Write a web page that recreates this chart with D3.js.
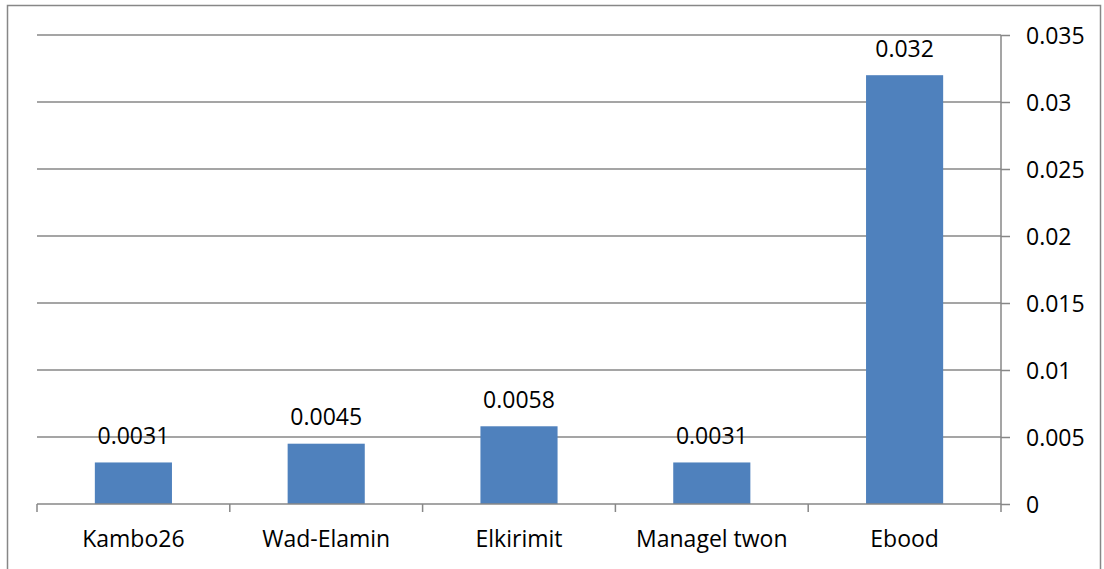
<!DOCTYPE html>
<html>
<head>
<meta charset="utf-8">
<script src="https://cdn.jsdelivr.net/npm/d3@7"></script>
<style>
  html, body { margin: 0; padding: 0; background: #fff; }
  svg { display: block; }
  text { font-family: "Open Sans", "Lato", sans-serif; fill: #000; }
</style>
</head>
<body>
<svg id="chart" width="1104" height="569"></svg>
<script>
// Site names and measured values
const categories = ["Kambo26", "Wad-Elamin", "Elkirimit", "Managel twon", "Ebood"];
const values = [0.0031, 0.0045, 0.0058, 0.0031, 0.032];
const valueLabels = ["0.0031", "0.0045", "0.0058", "0.0031", "0.032"];
const tickValues = [0, 0.005, 0.01, 0.015, 0.02, 0.025, 0.03, 0.035];
const tickLabels = ["0", "0.005", "0.01", "0.015", "0.02", "0.025", "0.03", "0.035"];

const svg = d3.select("#chart");
const W = 1104, H = 569;
const plot = { left: 37, right: 1001, top: 35, bottom: 504 };
const gridColor = "#878787";
const barColor = "#4F81BD";
const fontSize = 23;

// Outer chart frame
svg.append("rect")
  .attr("x", 7.5).attr("y", 5.5)
  .attr("width", 1093).attr("height", 580)
  .attr("fill", "none")
  .attr("stroke", gridColor)
  .attr("stroke-width", 1.5);

const x = d3.scaleBand()
  .domain(categories)
  .range([plot.left, plot.right])
  .paddingInner(0.6)
  .paddingOuter(0.3);

const y = d3.scaleLinear()
  .domain([0, 0.035])
  .range([plot.bottom, plot.top]);

// Horizontal gridlines
svg.append("g")
  .selectAll("line")
  .data(tickValues.filter(v => v > 0))
  .join("line")
  .attr("x1", plot.left)
  .attr("x2", plot.right)
  .attr("y1", d => y(d))
  .attr("y2", d => y(d))
  .attr("stroke", gridColor)
  .attr("stroke-width", 1.5);

// Bars
svg.append("g")
  .selectAll("rect")
  .data(values)
  .join("rect")
  .attr("x", (d, i) => x(categories[i]))
  .attr("y", d => y(d))
  .attr("width", x.bandwidth())
  .attr("height", d => y(0) - y(d))
  .attr("fill", barColor);

// Value labels above bars
svg.append("g")
  .selectAll("text")
  .data(values)
  .join("text")
  .attr("x", (d, i) => x(categories[i]) + x.bandwidth() / 2)
  .attr("y", d => y(d) - 18.5)
  .attr("text-anchor", "middle")
  .style("font-size", fontSize + "px")
  .text((d, i) => valueLabels[i]);

// Right-hand value axis
const yAxis = d3.axisRight(y)
  .tickValues(tickValues)
  .tickSize(9)
  .tickPadding(16)
  .tickFormat((d, i) => tickLabels[i]);

const gy = svg.append("g")
  .attr("transform", `translate(${plot.right},0)`)
  .call(yAxis);
gy.select(".domain").attr("stroke", gridColor).attr("stroke-width", 1.5)
  .attr("d", `M0,${plot.top}V${plot.bottom}`);
gy.selectAll(".tick line").attr("stroke", gridColor).attr("stroke-width", 1.5);
gy.selectAll(".tick text")
  .style("font-size", fontSize + "px")
  .attr("fill", "#000")
  .attr("dy", "0.35em");

// Category axis with ticks at category boundaries
const step = x.step();
const boundaries = d3.range(categories.length + 1).map(i => plot.left + i * (plot.right - plot.left) / categories.length);

svg.append("line")
  .attr("x1", plot.left).attr("x2", plot.right)
  .attr("y1", y(0)).attr("y2", y(0))
  .attr("stroke", gridColor)
  .attr("stroke-width", 1.5);

svg.append("g")
  .selectAll("line")
  .data(boundaries)
  .join("line")
  .attr("x1", d => d).attr("x2", d => d)
  .attr("y1", y(0)).attr("y2", y(0) + 8)
  .attr("stroke", gridColor)
  .attr("stroke-width", 1.5);

svg.append("g")
  .selectAll("text")
  .data(categories)
  .join("text")
  .attr("x", d => x(d) + x.bandwidth() / 2)
  .attr("y", 547)
  .attr("text-anchor", "middle")
  .style("font-size", fontSize + "px")
  .text(d => d);
</script>
</body>
</html>
